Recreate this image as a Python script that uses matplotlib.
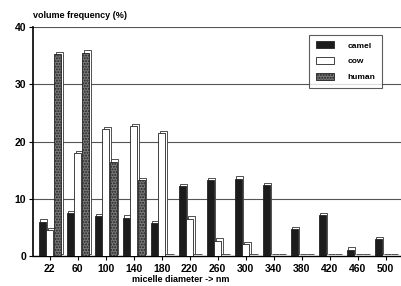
import matplotlib as mpl
mpl.use('Agg')

import matplotlib.pyplot as plt
import numpy as np

diameters = ["22", "60", "100", "140", "180", "220", "260", "300", "340", "380", "420", "460", "500"]
camel = [6.0, 7.5, 7.0, 6.7, 5.8, 12.2, 13.2, 13.5, 12.4, 4.7, 7.1, 1.1, 3.0]
cow = [4.5, 18.0, 22.2, 22.7, 21.5, 6.5, 2.7, 2.1, 0, 0, 0, 0, 0]
human = [35.2, 35.5, 16.5, 13.2, 0, 0, 0, 0, 0, 0, 0, 0, 0]

plt.rcParams['font.family'] = ['Liberation Sans', 'DejaVu Sans']
plt.rcParams['font.weight'] = 'bold'
plt.rcParams['hatch.color'] = '#444444'

fig = plt.figure(figsize=(4.01, 2.86), dpi=100)
ax = fig.add_axes([33 / 401, 1 - 256 / 286, 1 - 33 / 401, (256 - 27) / 286])

x = np.arange(len(diameters))
w = 0.25
step = 0.27
series = [
    ("camel", camel, "#1c1c1c", None),
    ("cow", cow, "white", None),
    ("human", human, "#7a7a7a", "......"),
]

# gridlines behind the bars
for yv in [10, 20, 30, 40]:
    ax.axhline(yv, color="#555555", lw=0.8, zorder=0)

for i, (name, vals, col, hatch) in enumerate(series):
    xs = x + (i - 1) * step
    # pseudo 3d: shifted outline behind each bar
    ax.bar(xs + 0.06, vals, w, bottom=0.4, color="white", edgecolor="#333333",
           lw=0.6, zorder=2)
    ax.bar(xs, vals, w, color=col, edgecolor="#222222", lw=0.6, hatch=hatch,
           zorder=3, label=name)

ax.set_xlim(-0.6, 12.55)
ax.set_ylim(0, 40)
ax.set_xticks(x)
ax.set_xticklabels(diameters, fontsize=7.5)
ax.set_yticks([0, 10, 20, 30, 40])
ax.set_yticklabels(["0", "10", "20", "30", "40"], fontsize=7.5)
ax.tick_params(axis="x", length=3, width=0.8, pad=3)
ax.tick_params(axis="y", length=3, width=0.8, pad=2)
for s in ["top", "right"]:
    ax.spines[s].set_visible(False)
ax.spines["left"].set_linewidth(1.2)
ax.spines["bottom"].set_linewidth(1.0)

fig.text(0.45, 1 - 280 / 286, "micelle diameter -> nm", fontsize=6.5,
         ha="center", va="center")
fig.text(33 / 401, 1 - 15 / 286, "volume frequency (%)", fontsize=6.5,
         va="center", ha="left")

leg = ax.legend(loc="upper right", bbox_to_anchor=(0.96, 0.985), fontsize=6,
                frameon=True, fancybox=False, edgecolor="#333333",
                handlelength=2.2, handleheight=0.9, borderpad=0.8,
                labelspacing=0.9, handletextpad=1.6)
leg.get_frame().set_linewidth(0.8)

plt.savefig("out.png", dpi=100)
